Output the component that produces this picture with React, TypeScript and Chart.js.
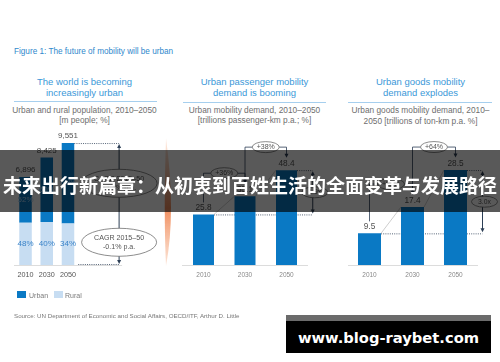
import React, { useEffect, useRef } from 'react';
import { Chart, registerables } from 'chart.js';

Chart.register(...registerables);

const W = 500;
const H = 362;
const BASE_Y = 265;
const FONT = '"Liberation Sans", Arial, Helvetica, sans-serif';

// ---------------- data ----------------
const years = ['2010', '2030', '2050'];
const populationTotal = [6896, 8425, 9551];
const urbanShare = [52, 60, 66];
const ruralShare = [48, 40, 34];
const populationCagr = ['+1.4% p.a.', '-0.1% p.a.'];
const passengerDemand = [25.8, 35.1, 48.4];
const passengerGrowth = ['+36%', '+38%'];
const passengerMultiple = '1.9x';
const goodsDemand = [9.5, 17.4, 28.5];
const goodsGrowth = ['+83%', '+64%'];
const goodsMultiple = '3.0x';
const legendLabels = ['Urban', 'Rural'];

const figureTitle = 'Figure 1: The future of mobility will be urban';
const panelTitles = [
  ['The world is becoming', 'increasingly urban'],
  ['Urban passenger mobility', 'demand is booming'],
  ['Urban goods mobility', 'demand explodes'],
];
const panelSubtitles = [
  ['Urban and rural population, 2010–2050', '[m people; %]'],
  ['Urban mobility demand, 2010–2050', '[trillions passenger-km p.a.; %]'],
  ['Urban goods mobility demand, 2010–', '2050 [trillions of ton-km p.a. %]'],
];
const sourceText = 'Source: UN Department of Economic and Social Affairs, OECD/ITF,  Arthur D. Little';
const bannerText = '未来出行新篇章：从初衷到百姓生活的全面变革与发展路径';
const watermarkText = 'www.blog-raybet.com';

const urbanValues = populationTotal.map((t, i) => (t * urbanShare[i]) / 100);
const ruralValues = populationTotal.map((t, i) => (t * ruralShare[i]) / 100);

// ---------------- style ----------------
const BLUE = '#0a79c4';
const LIGHT = '#c7ddf2';
const ANNO = '#2c3e55';
const LABEL = '#555555';

function drawEllipse(ctx: any, cx: number, cy: number, rx: number, ry: number, lines: string[], size: number) {
  ctx.save();
  ctx.beginPath();
  ctx.ellipse(cx, cy, rx, ry, 0, 0, Math.PI * 2);
  ctx.fillStyle = '#ffffff';
  ctx.fill();
  ctx.strokeStyle = '#707070';
  ctx.lineWidth = 0.8;
  ctx.stroke();
  ctx.fillStyle = '#555555';
  ctx.font = `${size}px ${FONT}`;
  ctx.textAlign = 'center';
  ctx.textBaseline = 'middle';
  const lh = size * 1.3;
  lines.forEach((t, i) => ctx.fillText(t, cx, cy + (i - (lines.length - 1) / 2) * lh));
  ctx.restore();
}

function head(ctx: any, x: number, y: number, dir: number) {
  ctx.beginPath();
  ctx.moveTo(x - 2, y - dir * 4);
  ctx.lineTo(x + 2, y - dir * 4);
  ctx.lineTo(x, y);
  ctx.closePath();
  ctx.fill();
}

function seg(ctx: any, x1: number, y1: number, x2: number, y2: number) {
  ctx.beginPath();
  ctx.moveTo(x1, y1);
  ctx.lineTo(x2, y2);
  ctx.stroke();
}

function doubleArrow(ctx: any, x: number, y1: number, y2: number) {
  ctx.save();
  ctx.strokeStyle = ANNO;
  ctx.fillStyle = ANNO;
  ctx.lineWidth = 1;
  seg(ctx, x, y1 + 3, x, y2 - 3);
  head(ctx, x, y1, -1);
  head(ctx, x, y2, 1);
  ctx.restore();
}

function makeOptions(left: number, right: number, top: number, yMax: number, tickSize: number, tickColor: string, stacked: boolean) {
  const pad = 10 - 0.6 * tickSize;
  const axisH = 1.2 * tickSize + 2 * pad;
  return {
    responsive: false,
    animation: false,
    events: [],
    layout: { padding: { left, right: W - right, top, bottom: H - BASE_Y - axisH } },
    plugins: { legend: { display: false }, tooltip: { enabled: false } },
    scales: {
      x: {
        stacked,
        offset: true,
        grid: { display: false, drawTicks: false },
        border: { display: true, color: '#dcdcdc', width: 1 },
        ticks: { font: { size: tickSize, family: FONT }, color: tickColor, padding: pad, maxRotation: 0, autoSkip: false },
      },
      y: { stacked, display: false, min: 0, max: yMax },
    },
  };
}

const populationPlugin = {
  id: 'populationAnno',
  afterDatasetsDraw(chart: any) {
    const ctx = chart.ctx;
    const area = chart.chartArea;
    const rural = chart.getDatasetMeta(0).data;
    const urban = chart.getDatasetMeta(1).data;
    ctx.save();
    ctx.textAlign = 'center';
    ctx.textBaseline = 'middle';
    ctx.font = `8px ${FONT}`;
    urban.forEach((bar: any, i: number) => {
      ctx.fillStyle = LABEL;
      ctx.fillText(populationTotal[i].toLocaleString('en-US'), bar.x, bar.y - 7);
      ctx.fillStyle = '#a6cff0';
      ctx.fillText(urbanShare[i] + '%', bar.x, (bar.y + bar.base) / 2);
      const r = rural[i];
      ctx.fillStyle = '#3b84c9';
      ctx.fillText(ruralShare[i] + '%', r.x, (r.y + r.base) / 2);
    });
    const last = urban[urban.length - 1];
    const rLast = rural[rural.length - 1];
    const xA = area.right + 40.5;
    const yTop = last.y;
    const yBot = area.bottom;
    ctx.strokeStyle = '#dcdcdc';
    ctx.lineWidth = 1;
    seg(ctx, area.right, yBot + 0.5, xA + 3, yBot + 0.5);
    ctx.strokeStyle = ANNO;
    ctx.lineWidth = 0.8;
    ctx.setLineDash([1, 1.2]);
    seg(ctx, last.x + last.width / 2, yTop + 0.5, xA, yTop + 0.5);
    seg(ctx, last.x + last.width / 2 + 4, yBot - 0.5, xA, yBot - 0.5);
    ctx.setLineDash([]);
    ctx.restore();
    doubleArrow(ctx, xA, yTop + 1, yBot - 1);
    drawEllipse(ctx, xA, (last.y + last.base) / 2, 38, 14, ['CAGR 2015–50', populationCagr[0]], 7.1);
    drawEllipse(ctx, xA, (rLast.y + rLast.base) / 2 - 2, 37.5, 14, ['CAGR 2015–50', populationCagr[1]], 7.1);
  },
  afterDraw(chart: any) {
    const ctx = chart.ctx;
    ctx.save();
    const g = ctx.createLinearGradient(0, 138, 0, 266);
    g.addColorStop(0, 'rgba(246,175,135,0.25)');
    g.addColorStop(0.55, 'rgba(240,135,85,0.95)');
    g.addColorStop(1, 'rgba(246,175,135,0.35)');
    ctx.fillStyle = g;
    ctx.beginPath();
    ctx.moveTo(166, 138);
    ctx.quadraticCurveTo(176, 212, 166, 266);
    ctx.quadraticCurveTo(163.5, 212, 166, 138);
    ctx.fill();
    ctx.restore();
  },
};

function demandPlugin(id: string, values: number[], growth: string[], multiple: string) {
  return {
    id,
    beforeDatasetsDraw(chart: any) {
      const ctx = chart.ctx;
      const area = chart.chartArea;
      const bars = chart.getDatasetMeta(0).data;
      const xA = area.right + 5.5;
      const first = bars[0];
      const last = bars[bars.length - 1];
      ctx.save();
      ctx.strokeStyle = ANNO;
      ctx.lineWidth = 0.8;
      ctx.setLineDash([1, 1.2]);
      seg(ctx, first.x + first.width / 2, first.y + 0.5, xA, first.y + 0.5);
      seg(ctx, last.x + last.width / 2, last.y + 0.5, xA, last.y + 0.5);
      ctx.setLineDash([]);
      ctx.strokeStyle = '#b8b8b8';
      ctx.lineWidth = 0.7;
      for (let k = 0; k < bars.length - 1; k++) {
        seg(ctx, bars[k].x + bars[k].width / 2, bars[k].y, bars[k + 1].x - bars[k + 1].width / 2, bars[k + 1].y);
      }
      ctx.restore();
    },
    afterDatasetsDraw(chart: any) {
      const ctx = chart.ctx;
      const area = chart.chartArea;
      const bars = chart.getDatasetMeta(0).data;
      const xA = area.right + 5.5;
      ctx.save();
      ctx.textAlign = 'center';
      ctx.textBaseline = 'middle';
      ctx.font = `8.3px ${FONT}`;
      ctx.fillStyle = LABEL;
      bars.forEach((b: any, i: number) => ctx.fillText(String(values[i]), b.x, b.y - 6.5));
      ctx.strokeStyle = ANNO;
      ctx.fillStyle = ANNO;
      ctx.lineWidth = 0.8;
      for (let k = 0; k < bars.length - 1; k++) {
        const a = bars[k];
        const b = bars[k + 1];
        const yB = b.y - 23;
        ctx.beginPath();
        ctx.moveTo(a.x, a.y - 12);
        ctx.lineTo(a.x, yB);
        ctx.lineTo(b.x, yB);
        ctx.lineTo(b.x, b.y - 16);
        ctx.stroke();
        head(ctx, b.x, b.y - 12.5, 1);
        drawEllipse(ctx, (a.x + b.x) / 2, yB, 13.5, 5.5, [growth[k]], 7);
      }
      ctx.restore();
      const first = bars[0];
      const last = bars[bars.length - 1];
      doubleArrow(ctx, xA, last.y + 1, first.y - 1);
      drawEllipse(ctx, xA + 2, (first.y + last.y) / 2, 13, 5.5, [multiple], 6.8);
    },
  };
}

function Txt(props: any) {
  const { x, y, size, color, align = 'center', weight = 400, family = FONT, children } = props;
  const lh = Math.round(size * 1.3);
  const style: any = {
    position: 'absolute',
    top: y - lh / 2,
    left: x,
    lineHeight: lh + 'px',
    fontSize: size,
    color,
    fontFamily: family,
    fontWeight: weight,
    whiteSpace: 'nowrap',
  };
  if (align === 'center') style.transform = 'translateX(-50%)';
  return <div style={style}>{children}</div>;
}

const panelCenters = [84.5, 254.5, 420.5];
const ruleSpans = [
  [14, 157],
  [183, 326],
  [348, 492],
];

export default function App() {
  const r1 = useRef<HTMLCanvasElement>(null);
  const r2 = useRef<HTMLCanvasElement>(null);
  const r3 = useRef<HTMLCanvasElement>(null);

  useEffect(() => {
    const c1 = new Chart(r1.current as any, {
      type: 'bar',
      data: {
        labels: years,
        datasets: [
          { label: legendLabels[1], data: ruralValues, backgroundColor: LIGHT, barPercentage: 0.59, categoryPercentage: 1 },
          { label: legendLabels[0], data: urbanValues, backgroundColor: BLUE, barPercentage: 0.59, categoryPercentage: 1 },
        ],
      },
      options: makeOptions(14.9, 78.6, 137.3, 10000, 7.2, '#555555', true) as any,
      plugins: [populationPlugin],
    });
    const c2 = new Chart(r2.current as any, {
      type: 'bar',
      data: {
        labels: years,
        datasets: [{ label: 'Passenger', data: passengerDemand, backgroundColor: BLUE, barPercentage: 0.506, categoryPercentage: 1 }],
      },
      options: makeOptions(182.75, 307.25, 147.4, 60, 6.5, '#8a8a8a', false) as any,
      plugins: [demandPlugin('passengerAnno', passengerDemand, passengerGrowth, passengerMultiple)],
    });
    const c3 = new Chart(r3.current as any, {
      type: 'bar',
      data: {
        labels: years,
        datasets: [{ label: 'Goods', data: goodsDemand, backgroundColor: BLUE, barPercentage: 0.535, categoryPercentage: 1 }],
      },
      options: makeOptions(348, 477, 148.4, 35, 6.5, '#8a8a8a', false) as any,
      plugins: [demandPlugin('goodsAnno', goodsDemand, goodsGrowth, goodsMultiple)],
    });
    return () => {
      c1.destroy();
      c2.destroy();
      c3.destroy();
    };
  }, []);

  const canvasStyle: any = { position: 'absolute', left: 0, top: 0 };

  return (
    <div style={{ position: 'absolute', left: 0, top: 0, width: W, height: H, overflow: 'hidden', background: '#ffffff' }}>
      <Txt x={14} y={51} size={8.2} color="#2f88cc" align="left">{figureTitle}</Txt>
      {panelTitles.map((lines, p) =>
        lines.map((t, j) => (
          <Txt key={`t${p}${j}`} x={panelCenters[p]} y={82 + j * 10.5} size={9.5} color="#3b98d8">{t}</Txt>
        ))
      )}
      {ruleSpans.map((s, p) => (
        <div key={`r${p}`} style={{ position: 'absolute', left: s[0], width: s[1] - s[0], top: p === 0 ? 100.5 : 101.5, height: 1.5, background: '#a6cfee' }} />
      ))}
      {panelSubtitles.map((lines, p) =>
        lines.map((t, j) => (
          <Txt key={`s${p}${j}`} x={panelCenters[p]} y={110 + j * (p === 2 ? 11 : 10)} size={8.3} color="#6e6e6e">{t}</Txt>
        ))
      )}
      <canvas ref={r1} width={W} height={H} style={canvasStyle} />
      <canvas ref={r2} width={W} height={H} style={canvasStyle} />
      <canvas ref={r3} width={W} height={H} style={canvasStyle} />
      <div style={{ position: 'absolute', left: 17, top: 291, width: 9, height: 7, background: BLUE }} />
      <Txt x={29} y={295} size={7} color="#7a7a7a" align="left">{legendLabels[0]}</Txt>
      <div style={{ position: 'absolute', left: 54, top: 291, width: 9, height: 7, background: LIGHT }} />
      <Txt x={65} y={295} size={7} color="#7a7a7a" align="left">{legendLabels[1]}</Txt>
      <Txt x={14} y={316} size={6.2} color="#777777" align="left">{sourceText}</Txt>
      <div style={{ position: 'absolute', left: 0, top: 150, width: W, height: 62, background: 'rgba(0,0,0,0.65)' }} />
      <Txt x={250} y={184} size={19} color="#ffffff" weight={700} family={'"Noto Sans CJK SC", sans-serif'}>{bannerText}</Txt>
      <div style={{ position: 'absolute', left: 286, top: 315, width: 205, height: 38, background: '#000000' }} />
      <div style={{ position: 'absolute', left: 286, top: 315, width: 205, height: 6, background: '#6b6b6b' }} />
      <Txt x={388.5} y={337} size={14.7} color="#ffffff" weight={700} family={'"DejaVu Sans", sans-serif'}>{watermarkText}</Txt>
    </div>
  );
}
